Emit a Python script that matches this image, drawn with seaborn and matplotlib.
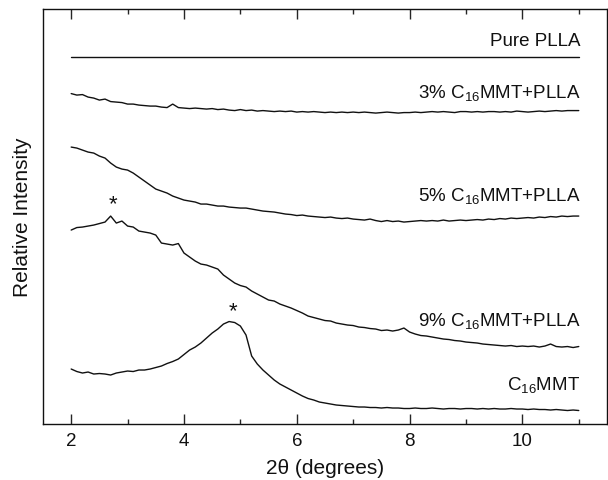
import numpy as np
import pandas as pd
import seaborn as sns
import matplotlib.pyplot as plt
from matplotlib.ticker import MultipleLocator

# scan angles (2theta, degrees), one reading every 0.1 degree
two_theta = np.round(np.linspace(2, 11, 91), 1)

# relative intensity (arbitrary units, curves already offset for stacking)
pure_plla_x = [2.0, 11.0]
pure_plla = [367, 367]

pct3 = [330.5, 329, 329.5, 327, 326, 324, 325, 322.5, 322, 321.5,
        320, 320, 319, 318.5, 318, 318, 317, 316.5, 320, 316.5,
        316, 315.5, 316, 315.5, 315, 315.5, 314.5, 315, 314, 313.5,
        314.5, 313.5, 314, 313, 313.5, 313, 312.5, 313, 312.5, 313,
        312, 312.5, 312, 312.5, 312, 311.5, 312, 311.5, 312, 311.5,
        312, 311.5, 312, 311.5, 311, 311.5, 312, 311.5, 311, 311.5,
        311.5, 312, 311.5, 312, 312.5, 312, 312.5, 312, 311.5, 312.5,
        312.5, 312, 312.5, 312, 312.5, 312.5, 312, 312.5, 312, 313,
        312.5, 312, 312.5, 313, 312.5, 313, 313.5, 313, 313.5, 313.5,
        313.5]

pct5 = [277, 276, 274, 272, 271, 268, 266, 261, 257, 255,
        254, 251, 247, 243, 239, 235, 233, 231, 228, 226,
        224, 223, 222, 220, 220, 219, 218, 218, 217, 216.5,
        216, 216, 215, 214, 213, 212.5, 212, 211, 210, 209.5,
        208.5, 209, 208, 207.5, 207, 206.5, 207, 206, 205.5, 206,
        205, 204.5, 204, 205, 203.5, 202.5, 203.5, 202.5, 203, 202,
        202.5, 203, 203.5, 203, 203.5, 203, 204, 203, 203.5, 204,
        203.5, 204, 204.5, 204, 205, 204.5, 205.5, 205, 206, 205.5,
        206, 206.5, 206, 207, 206.5, 207.5, 207, 208, 207.5, 208,
        208]

pct9 = [194, 196.5, 197, 198, 199, 200.5, 202, 208, 201, 203,
        198, 197, 193, 192, 191, 189, 181, 180, 179, 180.5,
        171, 167, 163, 160, 159, 157, 155, 149, 145, 141,
        138.5, 137, 133, 130, 127, 124, 123, 120, 118, 116,
        113.5, 111, 108, 106.5, 105, 103.5, 103, 101, 100, 99,
        98.5, 97, 96.5, 95.5, 95, 93.5, 94, 93, 94, 96,
        92, 90, 88.5, 88, 87, 86, 85, 84.5, 83.5, 83,
        82, 81.5, 81, 80, 79.5, 79, 78.5, 78, 78.5, 77.5,
        78, 77.5, 78, 77, 78, 80, 77.5, 77, 77.5, 76.5,
        77.5]

c16mmt = [55, 52.5, 51, 52, 50, 50.5, 50, 49, 51, 52,
          53, 52.5, 54, 54, 55, 56.5, 58, 60.5, 62.5, 65,
          69.5, 74, 77, 81, 86, 91, 95, 100, 102.5, 101.5,
          98, 89, 68, 60, 54, 49, 44, 40, 37, 34,
          31, 28, 25.5, 24, 22, 21, 20, 19, 18.5, 18,
          17.5, 17, 17, 16.5, 16.5, 16, 16.5, 16, 16, 15.5,
          15.5, 16, 15.5, 15.5, 16, 15.5, 15, 15.5, 15.5, 15,
          15.5, 15.5, 15, 15.5, 15, 15.5, 15, 15, 15.5, 15,
          15, 14.5, 15, 14.5, 14.5, 14, 14.5, 14, 13.5, 14,
          13.5]

labels = ["Pure PLLA", "3% C$_{16}$MMT+PLLA", "5% C$_{16}$MMT+PLLA",
          "9% C$_{16}$MMT+PLLA", "C$_{16}$MMT"]
label_y = [379, 327, 224, 99, 35]
star_x = [2.75, 4.87]
star_y = [220, 113]

sns.set_style("ticks")
plt.rcParams["font.family"] = ["Liberation Sans", "DejaVu Sans"]
plt.rcParams["mathtext.fontset"] = "custom"
plt.rcParams["mathtext.rm"] = "Liberation Sans"
plt.rcParams["mathtext.it"] = "Liberation Sans:italic"

fig = plt.figure(figsize=(6.08, 4.81), dpi=100)
ax = fig.add_axes([0.0707, 0.1164, 0.9276, 0.8626])

line_kw = dict(color="#111111", linewidth=1.0, estimator=None, sort=False, ax=ax)
sns.lineplot(x=pure_plla_x, y=pure_plla, **line_kw)
for series in [pct3, pct5, pct9, c16mmt]:
    sns.lineplot(x=two_theta, y=series, **line_kw)

for text, y in zip(labels, label_y):
    ax.text(11.03, y, text, ha="right", va="baseline", fontsize=13.5, color="#111111")
for x, y in zip(star_x, star_y):
    ax.text(x, y, "*", ha="center", va="center", fontsize=16, color="#111111")

ax.set_xlim(1.5, 11.5)
ax.set_ylim(0, 415)
ax.xaxis.set_major_locator(MultipleLocator(2))
ax.xaxis.set_minor_locator(MultipleLocator(1))
ax.tick_params(axis="x", which="major", direction="in", length=7, width=1,
               top=True, labelsize=13.5, pad=6, labelcolor="#111111")
ax.tick_params(axis="x", which="minor", direction="in", length=3.5, width=1, top=True)
ax.set_yticks([])
for side in ["top", "right", "bottom", "left"]:
    ax.spines[side].set_visible(True)
    ax.spines[side].set_linewidth(1.0)
    ax.spines[side].set_color("#111111")

ax.set_xlabel("2θ (degrees)", fontsize=15, labelpad=6, color="#111111")
ax.set_ylabel("Relative Intensity", fontsize=15, labelpad=8, color="#111111")

fig.savefig("out.png", dpi=100)
